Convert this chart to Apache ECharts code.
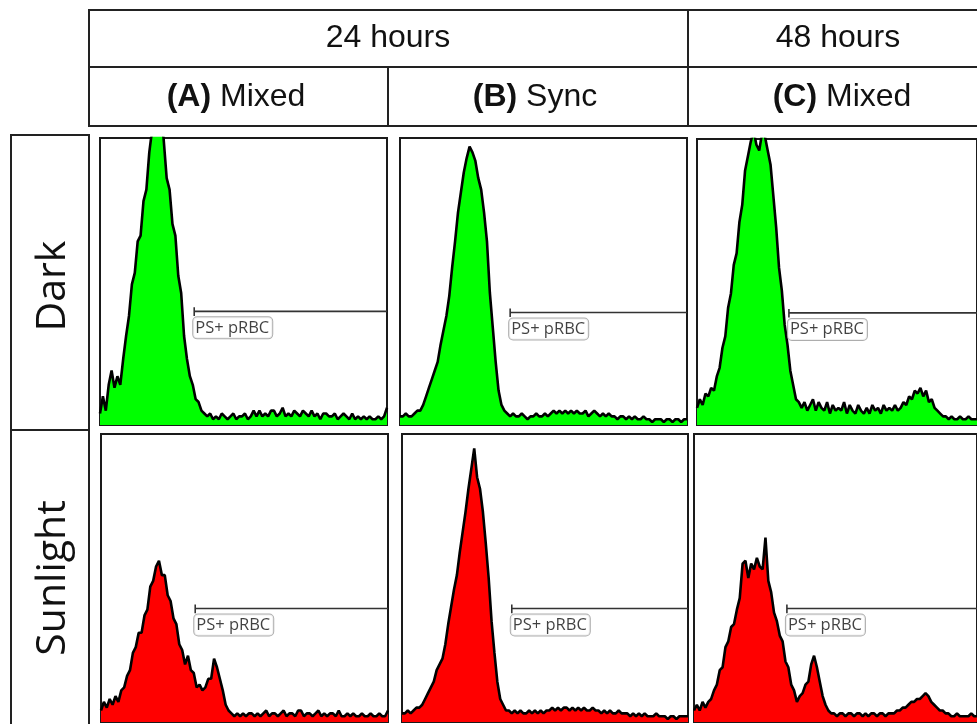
<!DOCTYPE html>
<html>
<head>
<meta charset="utf-8">
<script src="https://cdn.jsdelivr.net/npm/echarts@6/dist/echarts.min.js"></script>
<style>
html,body{margin:0;padding:0;background:#fff;}
#chart{width:977px;height:724px;}
</style>
</head>
<body>
<div id="chart"></div>
<script>
// Column / row headers
const timeHeaders = ['24 hours', '48 hours'];
const columnLetters = ['(A)', '(B)', '(C)'];
const columnNames = ['Mixed', 'Sync', 'Mixed'];
const rowLabels = ['Dark', 'Sunlight'];
const gateLabel = 'PS+ pRBC';

// Histogram counts (% of panel height), 100 channels each
const darkA = [4,10,5,14,19,13,17,14,23,31, 38,49,53,64,66,78,82,95,103,112, 104,111,99,86,82,70,66,52,46,31,
  23,17,14,9,8,5,4,3,4,2, 3,2,4,3,2,3,4,2,3,3, 4,2,3,5,3,5,3,4,3,5, 5,3,4,6,3,4,3,5,4,3,
  5,4,3,5,3,4,2,4,4,3, 3,4,2,3,4,3,2,4,2,3, 2,3,2,3,2,2,3,2,3,6];
const darkB = [3,3,4,3,3,4,5,5,7,10, 13,16,19,22,28,33,38,45,55,64, 74,81,88,93,97,95,92,86,82,74,
  64,46,34,22,12,7,5,4,3,4, 3,3,4,3,2,3,3,4,3,3, 4,3,4,5,4,5,4,5,4,5, 4,5,4,4,5,3,4,5,4,3,
  4,3,4,3,3,2,3,3,2,3, 2,3,2,2,3,2,2,1,2,2, 2,1,2,2,1,2,2,1,2,2];
const darkC = [6,9,7,11,10,13,12,17,20,27, 31,41,46,56,60,71,77,89,94,99, 103,98,96,102,101,96,91,80,69,55,
  47,35,28,19,14,9,8,6,8,5, 7,9,5,8,6,5,8,4,7,5, 6,5,8,4,7,5,4,7,5,4, 6,4,7,5,6,4,7,5,6,5,
  7,5,6,8,7,10,9,12,11,13, 10,12,8,9,6,5,4,3,3,2, 3,2,2,3,2,2,3,2,2,2];
const sunA = [4,7,5,8,6,9,7,11,12,16, 18,24,26,31,31,37,39,47,49,54, 56,51,51,44,42,36,34,27,25,20,
  23,18,17,12,13,11,12,15,15,22, 19,15,11,6,4,3,2,3,2,3, 2,3,3,2,3,2,3,4,2,3, 3,2,3,4,2,3,3,2,4,4,
  2,3,3,2,3,4,2,3,2,3, 3,2,4,2,2,3,2,3,2,2, 3,2,2,3,2,2,3,2,2,4];
const sunB = [3,3,4,3,4,5,5,6,8,10, 12,14,18,20,22,27,34,40,46,51, 59,66,73,81,88,95,85,81,73,62,
  50,35,24,14,8,6,4,4,3,4, 3,4,3,3,4,3,4,3,4,3, 4,4,5,4,5,4,5,5,4,5, 4,5,4,5,4,4,5,4,4,3,
  4,3,4,3,3,4,3,3,3,2, 3,2,3,2,3,2,2,2,3,2, 2,2,1,2,2,1,2,2,2,2];
const sunC = [4,6,4,7,5,7,8,11,13,18, 19,26,28,33,34,39,43,55,56,50, 55,53,57,54,53,64,49,45,38,35,
  30,28,21,19,13,11,7,9,10,13, 14,20,23,19,14,9,6,4,3,3, 2,3,3,2,3,3,2,3,3,2, 3,2,3,3,2,3,3,2,3,3,
  3,4,4,5,5,6,7,7,8,8, 9,10,9,7,6,5,4,4,3,3, 2,2,3,2,2,2,2,3,2,2];

const panels = [darkA, darkB, darkC, sunA, sunB, sunC];
// Gate start (channel) and gate level (% of height)
const gateStart = [32.5, 38, 32.5, 32.5, 38, 32.5];
const gateLevel = [39.6, 39.2, 39.2, 39.4, 39.4, 39.4];
const fillColors = ['#00ff00', '#00ff00', '#00ff00', '#ff0000', '#ff0000', '#ff0000'];

const gridBoxes = [
  {left:100, top:138, width:287, height:287},
  {left:400, top:138, width:287, height:287},
  {left:697, top:139, width:287, height:286},
  {left:101, top:434, width:287, height:288},
  {left:402, top:434, width:286, height:288},
  {left:694, top:434, width:287, height:288}
];

const grid = [], xAxis = [], yAxis = [], series = [];
panels.forEach((vals, k) => {
  grid.push(Object.assign({show:true, borderColor:'#1a1a1a', borderWidth:2, backgroundColor:'#fff'}, gridBoxes[k]));
  xAxis.push({type:'value', gridIndex:k, min:0, max:vals.length-1, show:false});
  yAxis.push({type:'value', gridIndex:k, min:0, max:100, show:false});
  series.push({
    type:'line', xAxisIndex:k, yAxisIndex:k, symbol:'none', clip:true, silent:true,
    data: vals.map((v,i)=>[i,v]),
    lineStyle:{color:'#000', width:2.6},
    areaStyle:{color:fillColors[k], opacity:1}
  });
  const gx = gateStart[k], gy = gateLevel[k];
  series.push({
    type:'line', xAxisIndex:k, yAxisIndex:k, symbol:'none', clip:false, silent:true,
    data:[[gx, gy-1.6],[gx, gy+1.4],[gx, gy],[vals.length-1, gy]],
    lineStyle:{color:'#333', width:1.6}, z:5
  });
  series.push({
    type:'scatter', xAxisIndex:k, yAxisIndex:k, symbolSize:0, silent:true, z:6,
    data:[[gx, gy]],
    label:{show:true, formatter:gateLabel, position:[-1, 6],
      fontFamily:'Open Sans', fontSize:16.5, color:'#111', lineHeight:19,
      backgroundColor:'#fff', borderColor:'#999', borderWidth:1, borderRadius:4,
      padding:[1,3,1,2]}
  });
});

const lineStyle = {stroke:'#222', lineWidth:2, fill:null};
const hFont = '32px "Liberation Sans", Arial, sans-serif';
const rowFont = '41px "Open Sans", sans-serif';
const graphic = [
  {type:'rect', shape:{x:89, y:10, width:1000, height:116}, style:lineStyle, silent:true},
  {type:'line', shape:{x1:89, y1:67, x2:1000, y2:67}, style:lineStyle, silent:true},
  {type:'line', shape:{x1:388, y1:67, x2:388, y2:126}, style:lineStyle, silent:true},
  {type:'line', shape:{x1:688, y1:10, x2:688, y2:126}, style:lineStyle, silent:true},
  {type:'text', x:388, y:38, style:{text:timeHeaders[0], font:hFont, fill:'#111', textAlign:'center', textVerticalAlign:'middle'}},
  {type:'text', x:838, y:38, style:{text:timeHeaders[1], font:hFont, fill:'#111', textAlign:'center', textVerticalAlign:'middle'}},
  {type:'rect', shape:{x:11, y:135, width:78, height:700}, style:lineStyle, silent:true},
  {type:'line', shape:{x1:11, y1:430, x2:89, y2:430}, style:lineStyle, silent:true},
  {type:'text', x:53, y:286, rotation:Math.PI/2, style:{text:rowLabels[0], font:rowFont, fill:'#111', textAlign:'center', textVerticalAlign:'middle'}},
  {type:'text', x:53, y:578, rotation:Math.PI/2, style:{text:rowLabels[1], font:rowFont, fill:'#111', textAlign:'center', textVerticalAlign:'middle'}}
];
const colCenters = [236, 535, 842];
columnLetters.forEach((L, i) => {
  graphic.push({type:'text', x:colCenters[i], y:97, style:{
    text:'{b|' + L + '} ' + columnNames[i],
    font:hFont, fill:'#111', textAlign:'center', textVerticalAlign:'middle',
    rich:{b:{fontWeight:'bold', fontSize:32, fontFamily:'"Liberation Sans", Arial, sans-serif', fill:'#111'}}
  }});
});

const chart = echarts.init(document.getElementById('chart'), null, {renderer:'canvas'});
chart.setOption({animation:false, backgroundColor:'#fff', grid, xAxis, yAxis, series, graphic});
</script>
</body>
</html>
